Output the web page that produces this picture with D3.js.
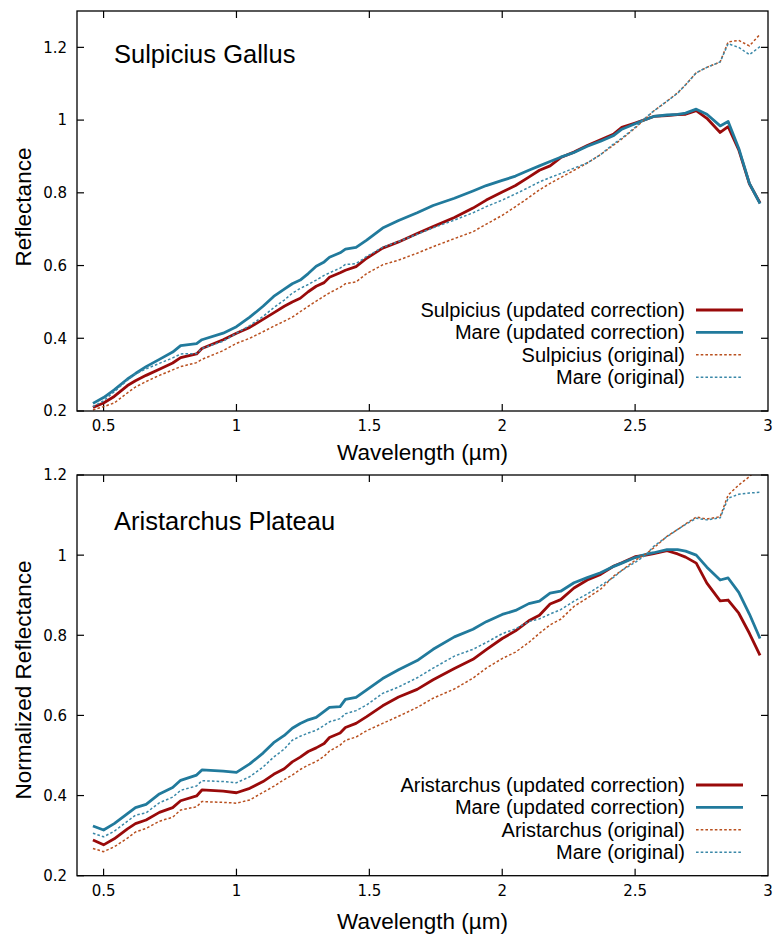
<!DOCTYPE html>
<html>
<head>
<meta charset="utf-8">
<script src="https://cdn.jsdelivr.net/npm/d3@7"></script>
<style>
  html, body { margin: 0; padding: 0; background: #fff; }
  svg { display: block; }
</style>
</head>
<body>
<svg id="chart" width="777" height="936"></svg>
<script>
// ---------------- DATA ----------------
const wavelengths = [0.46, 0.50, 0.54, 0.59, 0.62, 0.66, 0.71, 0.76, 0.79, 0.85, 0.87, 0.95, 1.00, 1.05, 1.10, 1.14, 1.18, 1.21, 1.24, 1.27, 1.30, 1.33, 1.35, 1.39, 1.41, 1.45, 1.49, 1.55, 1.61, 1.68, 1.74, 1.82, 1.89, 1.94, 2.00, 2.05, 2.10, 2.14, 2.18, 2.22, 2.27, 2.32, 2.37, 2.42, 2.45, 2.50, 2.54, 2.57, 2.62, 2.66, 2.69, 2.73, 2.77, 2.82, 2.85, 2.89, 2.93, 2.97];

// Panel 1: Sulpicius Gallus
const sulpiciusUpdated = [0.210, 0.222, 0.240, 0.270, 0.283, 0.298, 0.315, 0.332, 0.347, 0.357, 0.372, 0.396, 0.414, 0.430, 0.452, 0.470, 0.488, 0.500, 0.510, 0.528, 0.543, 0.553, 0.568, 0.580, 0.587, 0.597, 0.620, 0.648, 0.665, 0.688, 0.707, 0.732, 0.758, 0.780, 0.802, 0.820, 0.843, 0.862, 0.874, 0.897, 0.912, 0.930, 0.946, 0.962, 0.980, 0.992, 1.002, 1.010, 1.012, 1.015, 1.016, 1.026, 1.005, 0.966, 0.982, 0.918, 0.825, 0.772];
const mareUpdatedSG = [0.221, 0.237, 0.258, 0.288, 0.303, 0.322, 0.342, 0.362, 0.380, 0.385, 0.396, 0.414, 0.432, 0.458, 0.488, 0.515, 0.535, 0.550, 0.560, 0.578, 0.598, 0.610, 0.623, 0.635, 0.645, 0.650, 0.670, 0.703, 0.724, 0.745, 0.765, 0.785, 0.805, 0.820, 0.834, 0.846, 0.862, 0.874, 0.886, 0.898, 0.911, 0.928, 0.942, 0.958, 0.975, 0.990, 1.002, 1.010, 1.014, 1.016, 1.019, 1.030, 1.016, 0.984, 0.996, 0.922, 0.826, 0.770];
const sulpiciusOriginal = [0.203, 0.212, 0.222, 0.250, 0.266, 0.281, 0.298, 0.313, 0.322, 0.333, 0.342, 0.366, 0.386, 0.400, 0.418, 0.433, 0.447, 0.458, 0.473, 0.488, 0.502, 0.516, 0.525, 0.540, 0.550, 0.555, 0.578, 0.602, 0.615, 0.634, 0.652, 0.674, 0.693, 0.714, 0.738, 0.762, 0.787, 0.808, 0.826, 0.842, 0.862, 0.882, 0.905, 0.932, 0.948, 0.978, 1.005, 1.025, 1.052, 1.075, 1.097, 1.130, 1.145, 1.160, 1.215, 1.219, 1.204, 1.236];
const mareOriginalSG = [0.212, 0.228, 0.253, 0.285, 0.302, 0.316, 0.331, 0.346, 0.357, 0.358, 0.372, 0.392, 0.414, 0.435, 0.460, 0.484, 0.505, 0.524, 0.537, 0.548, 0.560, 0.573, 0.580, 0.593, 0.603, 0.605, 0.625, 0.650, 0.666, 0.686, 0.704, 0.725, 0.745, 0.762, 0.780, 0.797, 0.815, 0.830, 0.842, 0.853, 0.868, 0.882, 0.905, 0.935, 0.950, 0.980, 1.007, 1.025, 1.052, 1.074, 1.097, 1.130, 1.145, 1.160, 1.210, 1.200, 1.180, 1.202];

// Panel 2: Aristarchus Plateau
const aristarchusUpdated = [0.289, 0.277, 0.292, 0.317, 0.330, 0.339, 0.358, 0.370, 0.387, 0.399, 0.414, 0.411, 0.407, 0.418, 0.435, 0.453, 0.467, 0.484, 0.496, 0.510, 0.519, 0.530, 0.545, 0.556, 0.570, 0.580, 0.597, 0.624, 0.646, 0.665, 0.689, 0.717, 0.740, 0.764, 0.792, 0.811, 0.836, 0.850, 0.878, 0.889, 0.918, 0.938, 0.952, 0.973, 0.981, 0.996, 1.000, 1.004, 1.011, 1.003, 0.995, 0.980, 0.930, 0.886, 0.888, 0.855, 0.805, 0.750];
const mareUpdatedAP = [0.324, 0.314, 0.330, 0.355, 0.370, 0.378, 0.404, 0.420, 0.438, 0.451, 0.464, 0.461, 0.458, 0.479, 0.506, 0.532, 0.550, 0.568, 0.580, 0.589, 0.595, 0.610, 0.620, 0.622, 0.640, 0.645, 0.664, 0.692, 0.714, 0.737, 0.765, 0.796, 0.815, 0.834, 0.852, 0.862, 0.879, 0.885, 0.905, 0.910, 0.931, 0.944, 0.956, 0.972, 0.980, 0.994, 1.002, 1.006, 1.014, 1.014, 1.010, 1.000, 0.970, 0.938, 0.943, 0.907, 0.853, 0.792];
const aristarchusOriginal = [0.268, 0.260, 0.272, 0.294, 0.309, 0.318, 0.336, 0.346, 0.364, 0.372, 0.385, 0.383, 0.381, 0.389, 0.408, 0.423, 0.440, 0.451, 0.465, 0.476, 0.485, 0.498, 0.511, 0.526, 0.538, 0.546, 0.562, 0.580, 0.598, 0.620, 0.643, 0.666, 0.693, 0.718, 0.742, 0.758, 0.782, 0.805, 0.826, 0.840, 0.872, 0.893, 0.915, 0.948, 0.962, 0.987, 1.003, 1.018, 1.047, 1.064, 1.078, 1.095, 1.090, 1.096, 1.150, 1.175, 1.196, 1.222];
const mareOriginalAP = [0.306, 0.297, 0.311, 0.336, 0.351, 0.357, 0.382, 0.396, 0.413, 0.424, 0.437, 0.435, 0.432, 0.447, 0.471, 0.496, 0.516, 0.538, 0.548, 0.556, 0.563, 0.575, 0.584, 0.592, 0.604, 0.612, 0.626, 0.655, 0.671, 0.694, 0.718, 0.748, 0.765, 0.782, 0.804, 0.816, 0.834, 0.841, 0.853, 0.864, 0.885, 0.903, 0.924, 0.945, 0.962, 0.982, 1.000, 1.022, 1.046, 1.064, 1.077, 1.092, 1.088, 1.093, 1.142, 1.152, 1.155, 1.157];

const xTicks = [0.5, 1, 1.5, 2, 2.5, 3];
const xTickLabels = ["0.5", "1", "1.5", "2", "2.5", "3"];
const yTicks = [0.2, 0.4, 0.6, 0.8, 1.0, 1.2];
const yTickLabels = ["0.2", "0.4", "0.6", "0.8", "1", "1.2"];

const panelTitles = ["Sulpicius Gallus", "Aristarchus Plateau"];
const yAxisTitles = ["Reflectance", "Normalized Reflectance"];
const xAxisTitle = "Wavelength (\u00b5m)";
const legendTop = ["Sulpicius (updated correction)", "Mare (updated correction)", "Sulpicius (original)", "Mare (original)"];
const legendBottom = ["Aristarchus (updated correction)", "Mare (updated correction)", "Aristarchus (original)", "Mare (original)"];

// ---------------- STYLE ----------------
const styles = [
  { color: "#990a0a", width: 2.8, dash: null },
  { color: "#217a9c", width: 2.8, dash: null },
  { color: "#b9501f", width: 1.5, dash: "2.6,2.1" },
  { color: "#3a88a8", width: 1.5, dash: "2.6,2.1" }
];

const svg = d3.select("#chart");
const left = 77, right = 768;

const panels = [
  { top: 11, bottom: 411, yDomain: [0.2, 1.3], series: [sulpiciusUpdated, mareUpdatedSG, sulpiciusOriginal, mareOriginalSG],
    legend: legendTop, title: panelTitles[0], yTitle: yAxisTitles[0], legendY: 310, titleBase: 63, yTitleY: 207, xTitleBase: 460 },
  { top: 475, bottom: 875.7, yDomain: [0.2, 1.2], series: [aristarchusUpdated, mareUpdatedAP, aristarchusOriginal, mareOriginalAP],
    legend: legendBottom, title: panelTitles[1], yTitle: yAxisTitles[1], legendY: 785, titleBase: 530, yTitleY: 680, xTitleBase: 929 }
];

panels.forEach((p, pi) => {
  const x = d3.scaleLinear().domain([0.4, 3]).range([left, right]);
  const y = d3.scaleLinear().domain(p.yDomain).range([p.bottom, p.top]);
  const g = svg.append("g");

  const clipId = "clip" + pi;
  g.append("clipPath").attr("id", clipId).append("rect")
    .attr("x", left).attr("y", p.top).attr("width", right - left).attr("height", p.bottom - p.top);

  // ticks (inward on all four sides)
  const yt = yTicks.filter(v => v >= p.yDomain[0] && v <= p.yDomain[1] + 1e-9);
  const tk = 7;
  const tg = g.append("g").attr("stroke", "#000").attr("stroke-width", 1.2);
  xTicks.forEach(v => {
    if (v < 2.999) {
      tg.append("line").attr("x1", x(v)).attr("x2", x(v)).attr("y1", p.bottom).attr("y2", p.bottom - tk);
      tg.append("line").attr("x1", x(v)).attr("x2", x(v)).attr("y1", p.top).attr("y2", p.top + tk);
    }
  });
  yt.forEach(v => {
    tg.append("line").attr("x1", left).attr("x2", left + tk).attr("y1", y(v)).attr("y2", y(v));
    tg.append("line").attr("x1", right).attr("x2", right - tk).attr("y1", y(v)).attr("y2", y(v));
  });

  // tick labels
  xTicks.forEach((v, i) => {
    g.append("text").attr("x", x(v)).attr("y", p.bottom + 20)
      .attr("text-anchor", "middle").attr("font-family", "DejaVu Sans").attr("font-size", 15)
      .text(xTickLabels[i]);
  });
  yTicks.forEach((v, i) => {
    if (v < p.yDomain[0] || v > p.yDomain[1] + 1e-9) return;
    g.append("text").attr("x", 67).attr("y", y(v)).attr("dy", "0.36em")
      .attr("text-anchor", "end").attr("font-family", "DejaVu Sans").attr("font-size", 15)
      .text(yTickLabels[i]);
  });

  // lines
  const line = d3.line().x(d => x(d[0])).y(d => y(d[1]));
  const lg = g.append("g").attr("clip-path", `url(#${clipId})`);
  p.series.forEach((s, si) => {
    const st = styles[si];
    const pts = wavelengths.map((w, i) => [w, s[i]]);
    const path = lg.append("path").datum(pts).attr("d", line)
      .attr("fill", "none").attr("stroke", st.color).attr("stroke-width", st.width)
      .attr("stroke-linejoin", "round");
    if (st.dash) path.attr("stroke-dasharray", st.dash);
  });

  // frame
  g.append("rect").attr("x", left).attr("y", p.top).attr("width", right - left).attr("height", p.bottom - p.top)
    .attr("fill", "none").attr("stroke", "#000").attr("stroke-width", 1.3);

  // panel title
  g.append("text").attr("x", 114).attr("y", p.titleBase)
    .attr("font-family", "Liberation Sans, Arial, sans-serif").attr("font-size", 25.5)
    .text(p.title);

  // legend
  p.legend.forEach((t, i) => {
    const ly = p.legendY + i * 22.4;
    g.append("text").attr("x", 685).attr("y", ly).attr("dy", "0.35em").attr("text-anchor", "end")
      .attr("font-family", "Liberation Sans, Arial, sans-serif").attr("font-size", 20).text(t);
    const st = styles[i];
    const l = g.append("line").attr("x1", 696).attr("x2", 743).attr("y1", ly).attr("y2", ly)
      .attr("stroke", st.color).attr("stroke-width", st.width);
    if (st.dash) l.attr("stroke-dasharray", st.dash);
  });

  // axis titles
  g.append("text").attr("x", (left + right) / 2).attr("y", p.xTitleBase).attr("text-anchor", "middle")
    .attr("font-family", "Liberation Sans, Arial, sans-serif").attr("font-size", 22.5).text(xAxisTitle);
  g.append("text").attr("transform", `translate(31,${p.yTitleY}) rotate(-90)`).attr("text-anchor", "middle")
    .attr("font-family", "Liberation Sans, Arial, sans-serif").attr("font-size", 22.5).text(p.yTitle);
});
</script>
</body>
</html>
